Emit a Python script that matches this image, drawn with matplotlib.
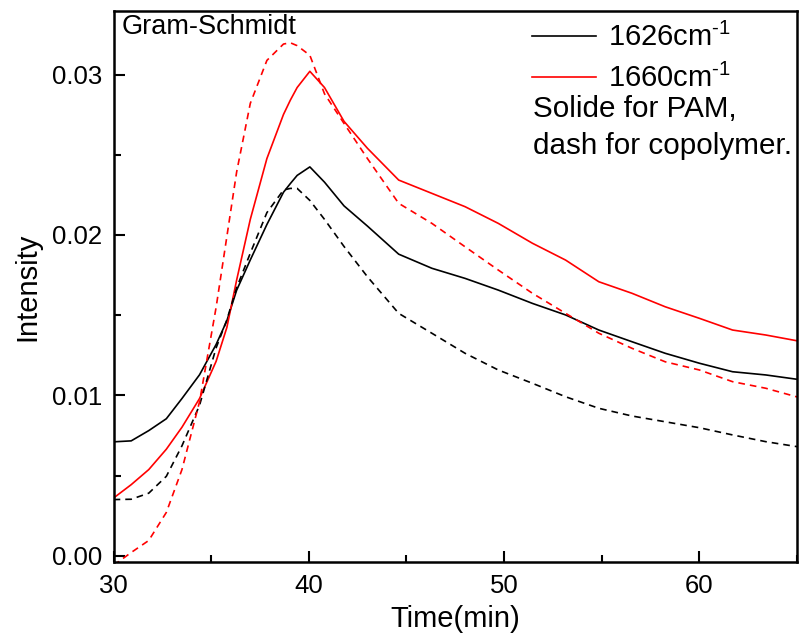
import matplotlib
matplotlib.use("Agg")
import matplotlib.pyplot as plt
from matplotlib.lines import Line2D
from matplotlib.ticker import MultipleLocator, FormatStrFormatter

plt.rcParams['font.family'] = ['Liberation Sans', 'DejaVu Sans']
plt.rcParams['mathtext.fontset'] = 'custom'
plt.rcParams['mathtext.rm'] = 'Liberation Sans'
plt.rcParams['mathtext.it'] = 'Liberation Sans'

# data
time = [30.0, 30.9, 31.8, 32.7, 33.5, 34.4, 35.25, 35.8, 36.3, 37.0, 37.85,
        38.7, 39.05, 39.4, 40.05, 40.8, 41.8, 43.0, 44.6, 46.3, 48.0, 49.7,
        51.45, 53.15, 54.85, 56.55, 58.25, 60.0, 61.7, 63.4, 65.0]

pam_1626 = [0.0071, 0.00716, 0.0078, 0.00854, 0.0098, 0.01128, 0.01317, 0.01465,
            0.01655, 0.01844, 0.02065, 0.02266, 0.0232, 0.02371, 0.02424, 0.02329,
            0.02181, 0.02055, 0.01880, 0.01792, 0.01729, 0.01656, 0.01573, 0.01501,
            0.01407, 0.01334, 0.01262, 0.0120, 0.01147, 0.01127, 0.0110]

pam_1660 = [0.0036, 0.00443, 0.00537, 0.00664, 0.00801, 0.0098, 0.01212, 0.01423,
            0.01718, 0.02097, 0.02476, 0.02751, 0.0284, 0.02919, 0.0302, 0.02919,
            0.02708, 0.0254, 0.02342, 0.02259, 0.02176, 0.02072, 0.01948, 0.01843,
            0.01708, 0.01636, 0.01552, 0.0148, 0.01407, 0.01376, 0.0134]

cop_1626 = [0.0035, 0.00352, 0.0039, 0.00495, 0.00685, 0.00938, 0.01296, 0.0147,
            0.0167, 0.01886, 0.02139, 0.0228, 0.0229, 0.0229, 0.02215, 0.02097,
            0.01928, 0.01739, 0.01511, 0.01387, 0.01262, 0.01158, 0.01075, 0.00991,
            0.00919, 0.00871, 0.00835, 0.00798, 0.00753, 0.00711, 0.0068]

cop_1660 = [-0.0006, 0.0002, 0.00095, 0.0027, 0.00537, 0.0096, 0.01549, 0.0199,
            0.02392, 0.0282, 0.03088, 0.0319, 0.03198, 0.0318, 0.0312, 0.0288,
            0.02695, 0.02476, 0.02197, 0.02072, 0.01926, 0.01781, 0.01636, 0.01511,
            0.01387, 0.01293, 0.01209, 0.01158, 0.01085, 0.01044, 0.0099]

fig = plt.figure(figsize=(7.99, 6.36), dpi=100)
ax = fig.add_axes([0.1422, 0.1159, 0.8553, 0.8668])

lw = 1.2
ax.plot(time, pam_1626, color='black', lw=lw)
ax.plot(time, pam_1660, color='red', lw=lw)
ax.plot(time, cop_1626, color='black', lw=lw, dashes=(4, 3))
ax.plot(time, cop_1660, color='red', lw=lw, dashes=(4, 3))

ax.set_xlim(30, 65)
ax.set_ylim(-0.00041, 0.03396)

ax.xaxis.set_major_locator(MultipleLocator(10))
ax.xaxis.set_minor_locator(MultipleLocator(5))
ax.yaxis.set_major_locator(MultipleLocator(0.01))
ax.yaxis.set_minor_locator(MultipleLocator(0.005))
ax.yaxis.set_major_formatter(FormatStrFormatter('%.2f'))

ax.tick_params(which='both', direction='in', top=False, right=False,
               labelsize=18.5, width=1.5, pad=8.5)
ax.tick_params(which='major', length=8)
ax.tick_params(which='minor', length=5)
for s in ax.spines.values():
    s.set_linewidth(1.8)

ax.set_xlabel('Time(min)', fontsize=21, labelpad=5)
ax.set_ylabel('Intensity', fontsize=21, labelpad=7)

ax.text(0.012, 0.994, 'Gram-Schmidt', transform=ax.transAxes, fontsize=19.5,
        ha='left', va='top')

handles = [Line2D([], [], color='black', lw=lw), Line2D([], [], color='red', lw=lw)]
ax.legend(handles, ['1626cm$^{\\text{-1}}$', '1660cm$^{\\text{-1}}$'], frameon=False,
          loc='upper left', bbox_to_anchor=(0.595, 1.0), fontsize=21,
          handlelength=2.2, handletextpad=0.4, labelspacing=0.42,
          borderaxespad=0)

ax.text(0.614, 0.848, 'Solide for PAM,\ndash for copolymer.',
        transform=ax.transAxes, fontsize=21.3, ha='left', va='top',
        linespacing=1.4)

fig.savefig('out.png', dpi=100)
